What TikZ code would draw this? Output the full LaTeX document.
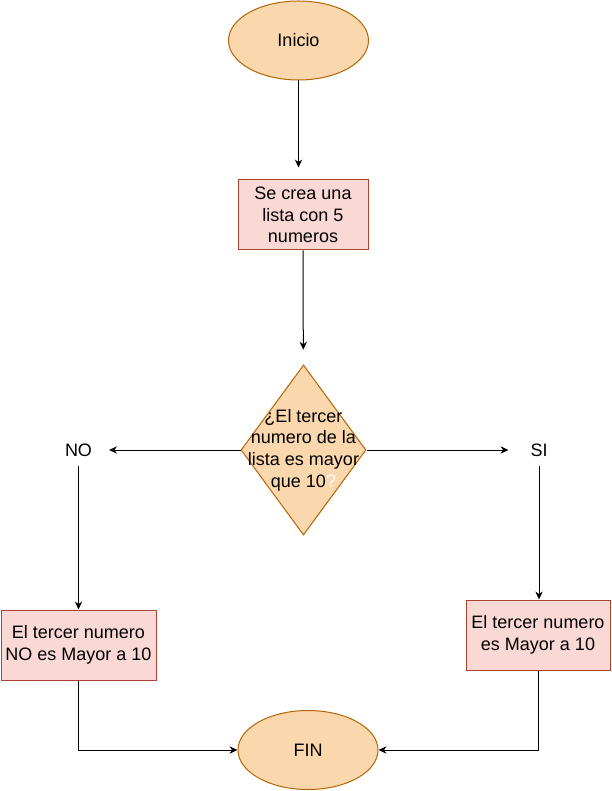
\documentclass[tikz,border=0pt]{standalone}
\usepackage{fontspec}
\setmainfont{Liberation Sans}
\usetikzlibrary{shapes.geometric, arrows.meta}
\definecolor{naranjaFondo}{HTML}{FAD7AC}
\definecolor{naranjaBorde}{HTML}{B46504}
\definecolor{rojoFondo}{HTML}{FAD9D5}
\definecolor{rojoBorde}{HTML}{AE4132}
\begin{document}
\begin{tikzpicture}[x=0.75pt,y=0.75pt,yscale=-1,xscale=1,line width=0.75pt,
  every node/.style={font=\fontsize{13.5}{16.2}\selectfont},
  terminal/.style={ellipse, draw=naranjaBorde, fill=naranjaFondo, minimum width=105pt, minimum height=59.25pt, inner sep=0pt},
  proceso/.style={rectangle, draw=rojoBorde, fill=rojoFondo, minimum height=52.5pt, align=center, inner sep=0pt},
  decision/.style={diamond, draw=naranjaBorde, fill=naranjaFondo, minimum width=93.75pt, minimum height=127.5pt, inner sep=0pt},
  etiqueta/.style={minimum width=45pt, minimum height=22.5pt, inner sep=0pt},
  flecha/.style={-{Stealth[length=6pt,width=5.5pt]}}
]
\path[use as bounding box] (0,0) rectangle (611,791);

% Terminal Node
\node[terminal] (inicio) at (298.5,40.5) {Inicio};
% Process Node
\node[proceso, minimum width=97.5pt] (caja1) at (303,215) {Se crea una\\lista con 5\\numeros};
% Decision Node
\node[decision] (dec) at (303.5,450) {};
\node[align=center] (pregunta) at (dec) {¿El tercer\\numero de la\\lista es mayor\\que 10\textcolor{white}{?}};
% Text Node
\node[etiqueta] (no) at (78.5,450) {NO};
\node[etiqueta] (si) at (539,450) {SI};
% Process Node
\node[proceso, minimum width=116.25pt] (izq) at (78.5,645) {El tercer numero\\NO es Mayor a 10};
\node[proceso, minimum width=108pt] (der) at (538,635) {El tercer numero\\es Mayor a 10};
% Terminal Node
\node[terminal] (fin) at (308,750) {FIN};

% Connectors
\draw[flecha, shorten >=9pt] (inicio) -- (inicio |- caja1.north);
\draw[flecha, shorten >=11.25pt] (caja1) -- (dec);
\draw[flecha] (dec) -- (no);
\draw[flecha] (dec) -- (si);
\draw[flecha] (no) -- (izq);
\draw[flecha] (si) -- (si |- der.north);
\draw[flecha] (izq) |- (fin);
\draw[flecha] (der) |- (fin);

\end{tikzpicture}
\end{document}
